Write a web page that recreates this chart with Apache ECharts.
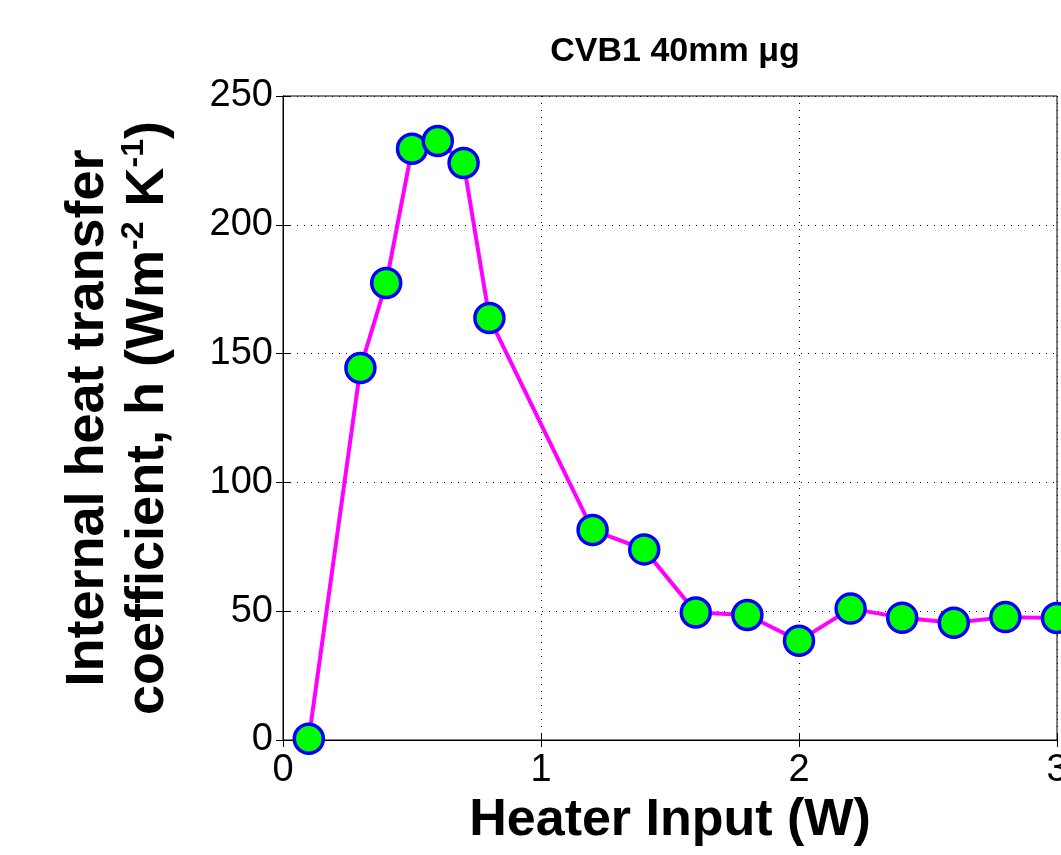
<!DOCTYPE html>
<html><head><meta charset="utf-8">
<script src="https://cdn.jsdelivr.net/npm/echarts@6/dist/echarts.min.js"></script>
<style>html,body{margin:0;padding:0;background:#fff}#c{width:1061px;height:855px}</style>
</head><body><div id="c"></div>
<script>
const heaterInput = [0.1, 0.3, 0.4, 0.5, 0.6, 0.7, 0.8, 1.2, 1.4, 1.6, 1.8, 2.0, 2.2, 2.4, 2.6, 2.8, 3.0];
const hValues = [0.5, 144.4, 177.4, 229.5, 232.5, 224, 163.8, 81.5, 74, 49.5, 48.5, 38.5, 51, 47.5, 45.5, 47.7, 47.4];
const titleText = 'CVB1 40mm μg';
const xName = 'Heater Input (W)';
const yNameLine1 = 'Internal heat transfer';
const yNameLine2a = 'coefficient, h (Wm';
const yNameLine2b = ' K';

const FONT = '"Liberation Sans", Arial, Helvetica, sans-serif';
const chart = echarts.init(document.getElementById('c'), null, {renderer: 'canvas'});
const data = heaterInput.map((x, i) => [x, hValues[i]]);
const dotted = {show: true, lineStyle: {color: '#000', type: [1, 6], width: 1}};
chart.setOption({
  animation: false,
  backgroundColor: '#fff',
  title: {
    text: titleText, left: 670, top: 30, textAlign: 'center',
    textStyle: {fontFamily: FONT, fontWeight: 'bold', fontSize: 34, color: '#000'}
  },
  grid: {left: 283, right: 4, top: 96, bottom: 115, show: true, borderColor: '#000', borderWidth: 1,
         backgroundColor: 'transparent', outerBoundsMode: 'none', containLabel: false},
  xAxis: [{
    type: 'value', min: 0, max: 3, interval: 1,
    name: xName, nameLocation: 'middle', nameGap: 55,
    nameTextStyle: {fontFamily: FONT, fontWeight: 'bold', fontSize: 52, color: '#000', verticalAlign: 'top'},
    axisLine: {show: true, lineStyle: {color: '#000', width: 1}},
    axisTick: {show: true, inside: true, length: 7, lineStyle: {color: '#000'}},
    axisLabel: {fontFamily: FONT, fontSize: 38, color: '#000', margin: 12},
    splitLine: dotted
  }, {
    type: 'value', min: 0, max: 3, interval: 1, position: 'top',
    axisLine: {show: true, lineStyle: {color: '#000'}},
    axisTick: {show: true, inside: true, length: 7, lineStyle: {color: '#000'}},
    axisLabel: {show: false}, splitLine: {show: false}
  }],
  yAxis: [{
    type: 'value', min: 0, max: 250, interval: 50,
    name: '{a|' + yNameLine1 + '}\n{a|' + yNameLine2a + '}{s|-2}{a|' + yNameLine2b + '}{s|-1}{a|)}',
    nameLocation: 'middle', nameRotate: 90, nameGap: 105,
    nameTextStyle: {
      fontFamily: FONT, fontWeight: 'bold', fontSize: 54, color: '#000',
      rich: {
        a: {fontFamily: FONT, fontWeight: 'bold', fontSize: 54, color: '#000', lineHeight: 60},
        s: {fontFamily: FONT, fontWeight: 'bold', fontSize: 32, color: '#000', lineHeight: 30, verticalAlign: 'top'}
      }
    },
    axisLine: {show: true, lineStyle: {color: '#000', width: 1}},
    axisTick: {show: true, inside: true, length: 7, lineStyle: {color: '#000'}},
    axisLabel: {fontFamily: FONT, fontSize: 38, color: '#000', margin: 10},
    splitLine: dotted
  }, {
    type: 'value', min: 0, max: 250, interval: 50, position: 'right',
    axisLine: {show: true, lineStyle: {color: '#000'}},
    axisTick: {show: true, inside: true, length: 7, lineStyle: {color: '#000'}},
    axisLabel: {show: false}, splitLine: {show: false}
  }],
  series: [{
    type: 'line', data: data, clip: false,
    lineStyle: {color: '#ff00ff', width: 4},
    symbol: 'circle', symbolSize: 29,
    itemStyle: {color: '#00ff00', borderColor: '#0000ff', borderWidth: 3.5},
    z: 3
  }]
});
</script></body></html>
